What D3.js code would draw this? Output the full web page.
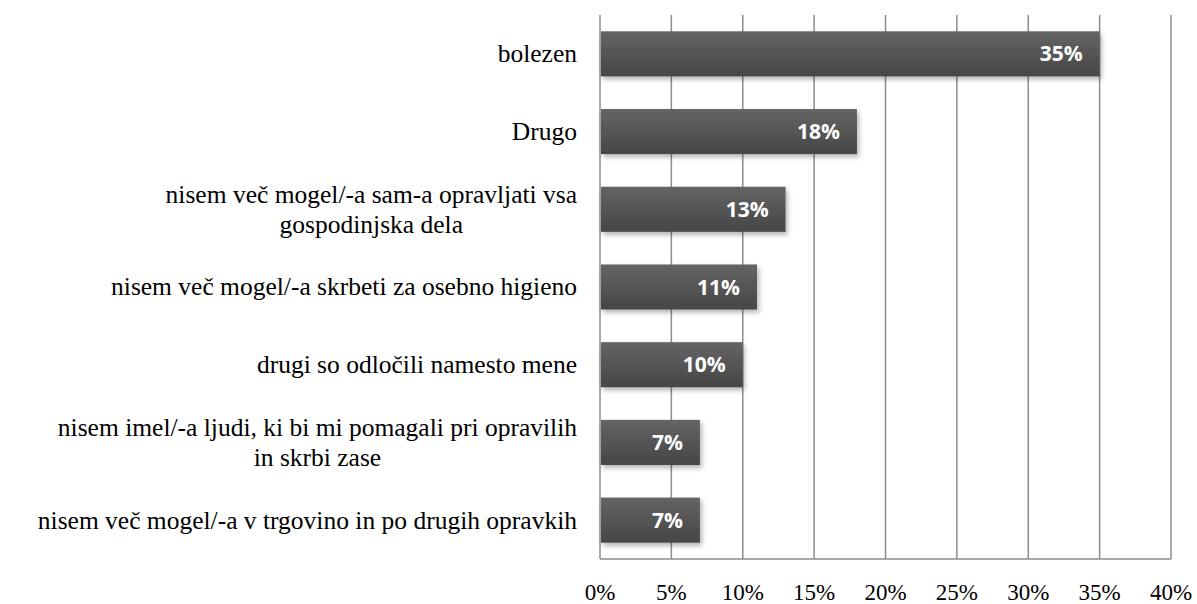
<!DOCTYPE html>
<html>
<head>
<meta charset="utf-8">
<script src="https://cdn.jsdelivr.net/npm/d3@7"></script>
<style>
  body { margin: 0; background: #fff; }
  svg { display: block; }
  .serif { font-family: "Times New Roman", Times, "Liberation Serif", "DejaVu Serif", serif; }
  .sans { font-family: "Open Sans", "Noto Sans", sans-serif; }
</style>
</head>
<body>
<div id="chart"></div>
<script>
const CATEGORIES = [
  ["bolezen"],
  ["Drugo"],
  ["nisem več mogel/-a sam-a opravljati vsa", "gospodinjska dela"],
  ["nisem več mogel/-a skrbeti za osebno higieno"],
  ["drugi so odločili namesto mene"],
  ["nisem imel/-a ljudi, ki bi mi pomagali pri opravilih", "in skrbi zase"],
  ["nisem več mogel/-a v trgovino in po drugih opravkih"]
]
const VALUES = [35, 18, 13, 11, 10, 7, 7]
const TICKS = [0, 5, 10, 15, 20, 25, 30, 35, 40]

const W = 1197, H = 604
const MARGIN = { TOP: 15, BOTTOM: 45, LEFT: 600, RIGHT: 26 }
const GRID = "#8c8c8c"

const svg = d3.select("#chart").append("svg")
  .attr("width", W)
  .attr("height", H)

const defs = svg.append("defs")
const grad = defs.append("linearGradient")
  .attr("id", "barGrad")
  .attr("x1", 0).attr("y1", 0).attr("x2", 0).attr("y2", 1)
grad.append("stop").attr("offset", "0%").attr("stop-color", "#646464")
grad.append("stop").attr("offset", "100%").attr("stop-color", "#464646")

const shadow = defs.append("filter").attr("id", "shadow")
  .attr("x", "-5%").attr("y", "-20%").attr("width", "115%").attr("height", "150%")
shadow.append("feDropShadow")
  .attr("dx", 2).attr("dy", 3).attr("stdDeviation", 2.5)
  .attr("flood-color", "#000").attr("flood-opacity", 0.3)

const x = d3.scaleLinear()
  .domain([0, 40])
  .range([MARGIN.LEFT, W - MARGIN.RIGHT])

const y = d3.scaleBand()
  .domain(d3.range(CATEGORIES.length))
  .range([MARGIN.TOP, H - MARGIN.BOTTOM])
  .paddingInner(0.42)
  .paddingOuter(0.21)

// gridlines
svg.append("g").selectAll("line")
  .data(TICKS)
  .join("line")
    .attr("x1", d => x(d)).attr("x2", d => x(d))
    .attr("y1", MARGIN.TOP).attr("y2", H - MARGIN.BOTTOM)
    .attr("stroke", GRID)
    .attr("stroke-width", 1.5)

// bottom axis line
svg.append("line")
  .attr("x1", x(0)).attr("x2", x(40))
  .attr("y1", H - MARGIN.BOTTOM).attr("y2", H - MARGIN.BOTTOM)
  .attr("stroke", GRID)
  .attr("stroke-width", 1.5)

// tick labels
svg.append("g").selectAll("text")
  .data(TICKS)
  .join("text")
    .attr("class", "serif")
    .attr("x", d => x(d))
    .attr("y", H - MARGIN.BOTTOM + 41)
    .attr("text-anchor", "middle")
    .style("font-size", "23px")
    .attr("fill", "#000")
    .text(d => d + "%")

// bars
svg.append("g").selectAll("rect")
  .data(VALUES)
  .join("rect")
    .attr("x", x(0) + 1)
    .attr("y", (d, i) => y(i))
    .attr("width", d => x(d) - x(0) - 1)
    .attr("height", y.bandwidth())
    .attr("fill", "url(#barGrad)")
    .attr("filter", "url(#shadow)")

// value labels
svg.append("g").selectAll("text")
  .data(VALUES)
  .join("text")
    .attr("class", "sans")
    .attr("x", d => x(d) - 17)
    .attr("y", (d, i) => y(i) + y.bandwidth() / 2)
    .attr("dy", "0.36em")
    .attr("text-anchor", "end")
    .style("font-weight", "bold")
    .style("font-size", "21px")
    .attr("fill", "#fff")
    .text(d => d + "%")

// category labels
const labelRight = MARGIN.LEFT - 23
const lineH = 30
const labels = svg.append("g").selectAll("text")
  .data(CATEGORIES)
  .join("text")
    .attr("class", "serif")
    .style("font-size", "25.5px")
    .attr("fill", "#000")
    .attr("text-anchor", "middle")

labels.each(function(lines, i) {
  const t = d3.select(this)
  const cy = y(i) + y.bandwidth() / 2
  const y0 = cy - (lines.length - 1) * lineH / 2
  lines.forEach((s, k) => {
    t.append("tspan")
      .attr("y", y0 + k * lineH)
      .attr("dy", "0.33em")
      .text(s)
  })
  const widths = []
  t.selectAll("tspan").each(function() { widths.push(this.getComputedTextLength()) })
  const cx = labelRight - d3.max(widths) / 2
  t.selectAll("tspan").attr("x", cx)
})
</script>
</body>
</html>
